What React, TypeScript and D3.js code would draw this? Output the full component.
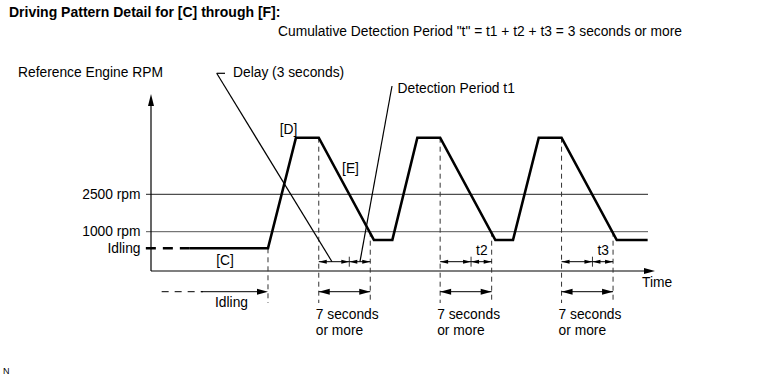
import React from "react";
import * as d3 from "d3";

// ---- data ----
const patternTime = [5.3, 15.9, 19.7, 22.8, 30.3, 32.8, 36.2, 39.3, 46.8, 49.2, 52.7, 55.8, 63.3, 67.5];
const patternRpm = [700, 700, 4000, 4000, 850, 850, 4000, 4000, 850, 850, 4000, 4000, 850, 850];
const idleDashTime = [-0.7, 5.3];
const idleRpm = 700;
const refRpm = [2500, 1000, 700];
const refLabels = ["2500 rpm", "1000 rpm", "Idling"];
const windowStart = [22.8, 39.3, 55.8];
const windowEnd = [29.8, 46.3, 62.8];
const windowSplit = [26.95, 43.5, 60.0];
const splitLabels = ["", "t2", "t3"];
const idleWindow = [1.45, 15.9];
const delayAnchor = 24.6;
const detectAnchor = 28.4;

const W = 767, H = 379;
const FONT = "'Liberation Sans', Arial, sans-serif";
const FS = 13.8;

const x = d3.scaleLinear().domain([0, 68.5]).range([151, 655]);
const y = d3.scaleLinear()
  .domain([0, 700, 1000, 2500, 4000, 5500])
  .range([271, 248.3, 231.7, 194.3, 137.7, 94]);

const upperRowY = 261.7;
const lowerRowY = 291.7;
const dashBottom = 303;

function head(tx: number, ty: number, dir: number, len: number, hw: number, key: string) {
  const pts = [[tx, ty], [tx - dir * len, ty - hw], [tx - dir * len, ty + hw]];
  return <polygon key={key} points={pts.map(p => p.join(",")).join(" ")} fill="#000" />;
}
function vhead(tx: number, ty: number, len: number, hw: number) {
  const pts = [[tx, ty], [tx - hw, ty + len], [tx + hw, ty + len]];
  return <polygon points={pts.map(p => p.join(",")).join(" ")} fill="#000" />;
}

function dblArrow(x1: number, x2: number, yy: number, len: number, hw: number, key: string) {
  return (
    <g key={key}>
      <line x1={x1} x2={x2} y1={yy} y2={yy} stroke="#000" strokeWidth={1} />
      {head(x1, yy, -1, len, hw, key + "a")}
      {head(x2, yy, 1, len, hw, key + "b")}
    </g>
  );
}

export default function App() {
  const line = d3.line<number>().x((d, i) => x(patternTime[i])).y((d) => y(d));
  const pathD = line(patternRpm) || "";

  const fallStartY = (t: number) => {
    const i = patternTime.findIndex(v => Math.abs(v - t) < 0.05);
    return i >= 0 ? y(patternRpm[i]) : y(4000);
  };

  return (
    <svg width={W} height={H} style={{ position: "absolute", left: 0, top: 0, background: "#fff" }}
      fontFamily={FONT}>
      <rect x={0} y={0} width={W} height={H} fill="#fff" />
      <text x={9} y={17.3} fontSize={14} fontWeight="bold">Driving Pattern Detail for [C] through [F]:</text>
      <text x={278} y={36} fontSize={FS}>Cumulative Detection Period "t" = t1 + t2 + t3 = 3 seconds or more</text>
      <text x={18} y={76.5} fontSize={FS}>Reference Engine RPM</text>
      <text x={233} y={76.5} fontSize={FS}>Delay (3 seconds)</text>
      <text x={397.5} y={93} fontSize={FS}>Detection Period t1</text>

      {/* reference lines */}
      {refRpm.slice(0, 2).map((r, i) => (
        <line key={"ref" + i} x1={146} x2={648} y1={y(r)} y2={y(r)} stroke={i === 0 ? "#222" : "#555"} strokeWidth={1} />
      ))}
      {refLabels.map((l, i) => (
        <text key={"rl" + i} x={140.5} y={y(refRpm[i]) + 4.5} fontSize={FS} textAnchor="end">{l}</text>
      ))}

      {/* axes */}
      <line x1={x(0)} x2={x(0)} y1={y(0)} y2={104} stroke="#000" strokeWidth={1.2} />
      {vhead(x(0), 94, 12, 3)}
      <line x1={x(0)} x2={645} y1={y(0)} y2={y(0)} stroke="#000" strokeWidth={1.2} />
      {head(655, y(0), 1, 11, 3, "xa")}
      <text x={642} y={286.5} fontSize={FS}>Time</text>

      {/* dashed verticals */}
      <line x1={x(idleWindow[1])} x2={x(idleWindow[1])} y1={y(idleRpm)} y2={dashBottom} stroke="#333" strokeWidth={1} strokeDasharray="5,4" />
      {windowStart.map((t, i) => (
        <line key={"ws" + i} x1={x(t)} x2={x(t)} y1={fallStartY(t)} y2={dashBottom} stroke="#333" strokeWidth={1} strokeDasharray="5,4" />
      ))}
      {windowEnd.map((t, i) => (
        <line key={"we" + i} x1={x(t)} x2={x(t)} y1={y(1000)} y2={dashBottom} stroke="#333" strokeWidth={1} strokeDasharray="5,4" />
      ))}

      {/* pattern */}
      <line x1={x(idleDashTime[0])} x2={x(idleDashTime[1])} y1={y(idleRpm)} y2={y(idleRpm)} stroke="#000" strokeWidth={2.5} strokeDasharray="10,7" />
      <path d={pathD} fill="none" stroke="#000" strokeWidth={2.6} strokeLinejoin="miter" />

      {/* leader lines */}
      <line x1={216.7} x2={225} y1={73.3} y2={73.3} stroke="#000" strokeWidth={1.2} />
      <line x1={216.7} y1={73.3} x2={x(delayAnchor)} y2={upperRowY} stroke="#000" strokeWidth={1.2} />
      <line x1={392} y1={86} x2={x(detectAnchor)} y2={upperRowY} stroke="#000" strokeWidth={1.2} />

      {/* upper split arrows */}
      {windowStart.map((t, i) => (
        <g key={"up" + i}>
          {dblArrow(x(t), x(windowSplit[i]), upperRowY, 8, 2, "u1" + i)}
          {dblArrow(x(windowSplit[i]), x(windowEnd[i]), upperRowY, 8, 2, "u2" + i)}
          <line x1={x(windowSplit[i])} x2={x(windowSplit[i])} y1={upperRowY - 5} y2={upperRowY + 5} stroke="#000" strokeWidth={0.8} />
          {splitLabels[i] && (
            <text x={(x(windowSplit[i]) + x(windowEnd[i])) / 2 + 0.5} y={255} fontSize={FS} textAnchor="middle">{splitLabels[i]}</text>
          )}
        </g>
      ))}

      {/* lower arrows */}
      {windowStart.map((t, i) => (
        <g key={"lo" + i}>
          {dblArrow(x(t), x(windowEnd[i]), lowerRowY, 11, 3, "l" + i)}
          <text x={x(t) - 3} y={319} fontSize={FS}>7 seconds</text>
          <text x={x(t) - 3} y={334.5} fontSize={FS}>or more</text>
        </g>
      ))}
      <line x1={x(idleWindow[0])} x2={203} y1={lowerRowY} y2={lowerRowY} stroke="#000" strokeWidth={1} strokeDasharray="7,6" />
      <line x1={201} x2={x(idleWindow[1]) - 8} y1={lowerRowY} y2={lowerRowY} stroke="#000" strokeWidth={1} />
      {head(x(idleWindow[1]), lowerRowY, 1, 11, 3, "idl")}
      <text x={215} y={307} fontSize={FS}>Idling</text>

      {/* bracket labels */}
      <text x={225} y={265} fontSize={FS} textAnchor="middle">[C]</text>
      <text x={288.5} y={133.5} fontSize={FS} textAnchor="middle">[D]</text>
      <text x={350.5} y={172.5} fontSize={FS} textAnchor="middle">[E]</text>

      <text x={3} y={373.5} fontSize={9}>N</text>
    </svg>
  );
}
